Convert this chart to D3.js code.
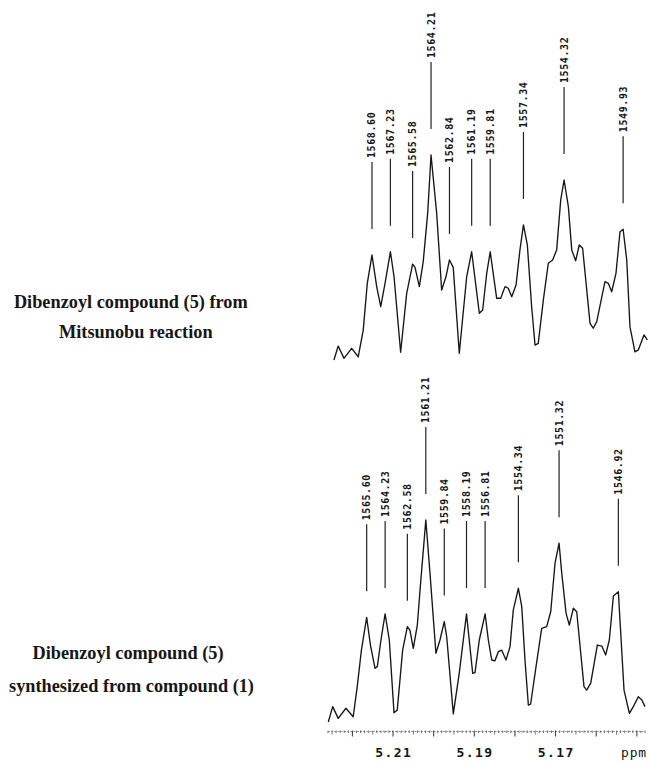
<!DOCTYPE html>
<html>
<head>
<meta charset="utf-8">
<script src="https://cdn.jsdelivr.net/npm/d3@7/dist/d3.min.js"></script>
<style>
  html, body { margin: 0; padding: 0; background: #fff; }
  svg { display: block; }
</style>
</head>
<body>
<svg id="chart" width="649" height="762"></svg>
<script>
// ---------------- DATA ----------------
// Upper spectrum (Mitsunobu product): frequency in Hz, relative intensity
const topHz = [1571.43,1571.11,1570.68,1570.11,1569.62,1569.25,1568.95,1568.60,1568.25,1567.95,
  1567.63,1567.23,1566.96,1566.47,1566.02,1565.58,1565.40,1565.08,1564.79,1564.46,
  1564.21,1563.79,1563.42,1563.10,1562.84,1562.56,1562.11,1561.56,1561.19,1560.62,
  1560.37,1560.07,1559.81,1559.33,1559.03,1558.71,1558.47,1558.21,1557.89,1557.60,
  1557.34,1557.05,1556.73,1556.48,1556.24,1555.86,1555.49,1555.17,1554.87,1554.57,
  1554.32,1554.00,1553.75,1553.46,1553.19,1552.94,1552.39,1552.15,1551.89,1551.28,
  1551.03,1550.78,1550.46,1550.16,1549.93,1549.66,1549.42,1549.05,1548.80,1548.38,1548.13];
const topInt = [0,6.8,0.8,5.7,1.6,14.6,37.4,51.2,35.8,26.0,
  37.4,52.8,40.6,3.8,32.5,46.8,45.2,35.8,48.0,71.5,
  100,71.5,34.1,40.6,48.8,45.2,3.3,40.6,52.8,22.8,
  24.4,42.3,52.8,30.1,30.1,35.8,35.0,30.9,36.6,53.7,
  65.9,56.1,26.0,7.3,8.1,29.3,47.2,48.8,53.7,78.0,
  87.8,74.8,53.7,48.4,56.1,54.5,17.9,15.5,18.7,38.2,
  37.4,33.3,42.3,62.6,63.8,48.8,16.2,4.0,4.9,12.2,9.8];
const topPeaks = [1568.60,1567.23,1565.58,1564.21,1562.84,1561.19,1559.81,1557.34,1554.32,1549.93];

// Lower spectrum (synthesized from compound 1)
const botHz = [1568.45,1568.12,1567.71,1567.14,1566.60,1566.30,1565.99,1565.60,1565.32,1564.98,
  1564.81,1564.54,1564.23,1563.92,1563.57,1563.33,1562.93,1562.58,1562.39,1562.14,
  1561.84,1561.64,1561.21,1560.90,1560.46,1560.16,1559.84,1559.66,1559.17,1558.73,
  1558.19,1557.73,1557.56,1557.24,1556.81,1556.57,1556.32,1556.08,1555.83,1555.58,
  1555.26,1554.96,1554.72,1554.34,1554.09,1553.85,1553.60,1553.43,1553.03,1552.61,
  1552.24,1551.94,1551.62,1551.32,1551.12,1550.80,1550.56,1550.26,1550.01,1549.47,
  1549.27,1548.97,1548.48,1548.15,1547.86,1547.59,1547.29,1546.92,1546.80,1546.50,
  1546.10,1545.81,1545.44,1545.18,1544.94];
const botInt = [0,7.6,1.8,6.8,2.6,17.5,35.6,51.8,38.1,26.6,
  27.4,40.6,53.5,40.6,4.6,5.9,35.6,47.2,45.5,36.5,
  48.0,65.3,100,73.6,34.0,40.6,49.7,42.2,4.0,24.1,
  53.5,24.1,24.4,40.6,53.5,40.6,30.7,30.3,34.8,35.6,
  30.7,37.3,55.4,66.2,57.1,30.7,8.4,8.9,27.4,46.4,
  47.2,54.6,78.6,88.5,73.6,53.8,48.0,56.3,54.6,17.5,
  15.8,19.2,38.1,37.6,33.2,40.6,62.4,64.5,50.5,15.8,
  4.3,7.6,12.5,10.9,7.6];
const botPeaks = [1565.60,1564.23,1562.58,1561.21,1559.84,1558.19,1556.81,1554.34,1551.32,1546.92];

// ppm axis
const ppmLabels = [5.21, 5.19, 5.17];
const ppmUnit = "ppm";

// captions
const topCaption = ["Dibenzoyl compound (5) from", "Mitsunobu reaction"];
const botCaption = ["Dibenzoyl compound (5)", "synthesized from compound (1)"];

// ---------------- DRAW ----------------
const svg = d3.select("#chart");
const ink = "#161616";

const xTop = d3.scaleLinear().domain([1571.87, 1548.08]).range([328, 648]);
const yTop = d3.scaleLinear().domain([0, 100]).range([360, 155]);
const xBot = d3.scaleLinear().domain([1568.47, 1544.72]).range([328, 648]);
const yBot = d3.scaleLinear().domain([0, 100]).range([722, 520]);
const xPpm = d3.scaleLinear().domain([5.226, 5.148]).range([328, 645]);

function drawSpectrum(hz, inten, peaks, x, y) {
  const pts = hz.map((h, i) => [h, inten[i]]);
  const line = d3.line().x(d => x(d[0])).y(d => y(d[1]));
  svg.append("path")
    .attr("d", line(pts))
    .attr("fill", "none")
    .attr("stroke", ink)
    .attr("stroke-width", 1.35)
    .attr("stroke-linejoin", "round");

  const g = svg.append("g");
  peaks.forEach(p => {
    const idx = hz.findIndex(h => Math.abs(h - p) < 1e-6);
    const py = y(inten[idx]);
    const px = x(p);
    g.append("line")
      .attr("x1", px).attr("x2", px)
      .attr("y1", py - 26).attr("y2", py - 93)
      .attr("stroke", "#222").attr("stroke-width", 1.2);
    g.append("text")
      .attr("transform", `translate(${px},${py - 97}) rotate(-90)`)
      .attr("text-anchor", "start")
      .attr("dominant-baseline", "central")
      .attr("font-family", "DejaVu Sans Mono, monospace")
      .attr("font-weight", "bold")
      .attr("font-size", 10)
      .attr("letter-spacing", 0.6)
      .attr("fill", ink)
      .text(p.toFixed(2));
  });
}

drawSpectrum(topHz, topInt, topPeaks, xTop, yTop);
drawSpectrum(botHz, botInt, botPeaks, xBot, yBot);

// ppm axis
const axisY = 731.5;
const axG = svg.append("g");
axG.append("line")
  .attr("x1", xPpm(5.226)).attr("x2", xPpm(5.148))
  .attr("y1", axisY).attr("y2", axisY)
  .attr("stroke", "#777").attr("stroke-width", 0.8)
  .attr("stroke-dasharray", "2,1.2");
d3.range(5148, 5227).forEach(k => {
  const v = k / 1000;
  const major = k % 10 === 0;
  const mid = k % 5 === 0;
  axG.append("line")
    .attr("x1", xPpm(v)).attr("x2", xPpm(v))
    .attr("y1", axisY - 1).attr("y2", axisY + (major ? 5 : mid ? 3 : 1.6))
    .attr("stroke", major ? "#333" : "#555")
    .attr("stroke-width", major ? 1 : 0.8);
});
ppmLabels.forEach(v => {
  axG.append("text")
    .attr("x", xPpm(v) + 0.7).attr("y", 756.5)
    .attr("text-anchor", "middle")
    .attr("font-family", "DejaVu Sans Mono, monospace")
    .attr("font-weight", "bold")
    .attr("font-size", 13)
    .attr("letter-spacing", 1.4)
    .attr("fill", ink)
    .text(v.toFixed(2));
});
axG.append("text")
  .attr("x", 634).attr("y", 756.5)
  .attr("text-anchor", "middle")
  .attr("font-family", "DejaVu Sans Mono, monospace")
  .attr("font-size", 13)
  .attr("letter-spacing", 0.8)
  .attr("fill", ink)
  .text(ppmUnit);

// captions
function caption(lines, cx, ys) {
  lines.forEach((t, i) => {
    svg.append("text")
      .attr("x", cx[i]).attr("y", ys[i])
      .attr("text-anchor", "middle")
      .attr("font-family", "Liberation Serif, 'Times New Roman', serif")
      .attr("font-weight", "bold")
      .attr("font-size", 18.3)
      .attr("fill", ink)
      .text(t);
  });
}
caption(topCaption, [130.8, 135.8], [307.5, 338.3]);
caption(botCaption, [128, 131.5], [659, 692]);
</script>
</body>
</html>
